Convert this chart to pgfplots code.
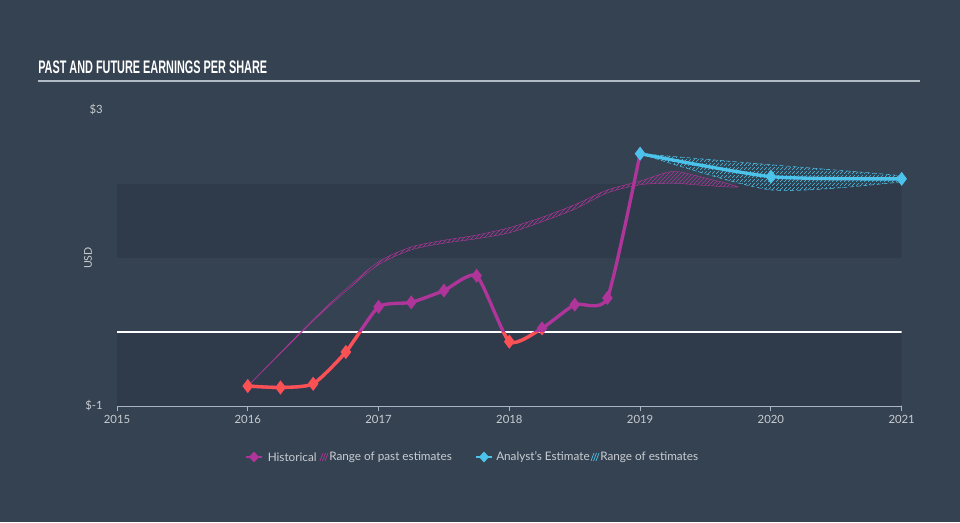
\documentclass[border=0pt]{standalone}
\usepackage{pgfplots}
\pgfplotsset{compat=1.18}
\usetikzlibrary{patterns}
\usepackage{fontspec}
\setmainfont{Lato}
\newfontfamily\titlefont{Liberation Sans}[FakeStretch=0.6]
\definecolor{bgc}{HTML}{354251}
\definecolor{bandc}{HTML}{2F3B4A}
\definecolor{redc}{HTML}{FA5252}
\definecolor{purc}{HTML}{B0359A}
\definecolor{bluc}{HTML}{4CC3EA}
\definecolor{txtc}{HTML}{C9CDD2}
\definecolor{axc}{HTML}{AAB5C1}
\begin{document}
\begin{tikzpicture}
\useasboundingbox (0,0) rectangle (720pt,391.5pt);
\fill[bgc] (0,0) rectangle (720pt,391.5pt);
% ---------- main axis ----------
\begin{axis}[
  at={(87.75pt,87pt)}, anchor=south west, scale only axis,
  width=588.5pt, height=222pt,
  xmin=2015, xmax=2021, ymin=-1, ymax=3,
  axis x line*=bottom, axis y line*=left,
  y axis line style={draw=none},
  x axis line style={draw=axc, line width=0.8pt},
  xtick={2015,2016,2017,2018,2019,2020,2021},
  xticklabels={2015,2016,2017,2018,2019,2020,2021},
  ytick={-1,3}, yticklabels={\$-1,\$3},
  tick align=outside,
  major tick length=4pt,
  x tick style={draw=axc, line width=0.7pt},
  y tick style={draw=none},
  ticklabel style={font=\fontsize{8.5}{10}\selectfont, text=txtc},
  xticklabel style={anchor=north, inner sep=0pt, yshift=-3pt},
  yticklabel style={anchor=east, inner sep=0pt, xshift=-6.5pt},
  clip=true,
]
\fill[bandc] (axis cs:2015,1) rectangle (axis cs:2021,2);
\fill[bandc] (axis cs:2015,-1) rectangle (axis cs:2021,0);
\draw[white, line width=0.9pt] (axis cs:2015,0) -- (axis cs:2021,0);
% range of past estimates (upper forward, lower backward)
\addplot[draw=purc, line width=0.3pt, smooth, tension=0.45, pattern=north east lines, pattern color=purc] coordinates {
 (2016.00,-0.73) (2016.25,-0.28) (2016.50,0.17) (2016.75,0.58) (2017.00,0.95)
 (2017.25,1.15) (2017.50,1.24) (2017.75,1.31) (2018.00,1.41) (2018.25,1.55)
 (2018.50,1.72) (2018.75,1.92) (2019.00,2.04) (2019.25,2.17) (2019.50,2.08) (2019.75,1.96)
 (2019.50,1.98) (2019.25,2.01) (2019.00,1.99) (2018.75,1.88) (2018.50,1.66)
 (2018.25,1.49) (2018.00,1.34) (2017.75,1.26) (2017.50,1.20) (2017.25,1.11)
 (2017.00,0.91) (2016.75,0.55) (2016.50,0.15) (2016.25,-0.29) (2016.00,-0.73)};
% range of estimates
\addplot[draw=bluc, line width=0.4pt, densely dashed, smooth, tension=0.4, pattern=north east lines, pattern color=bluc] coordinates {
 (2019,2.41) (2020,2.26) (2021,2.11) (2021,2.03) (2020,1.92) (2019,2.41)};
% historical (purple, full)
\addplot[purc, line width=2.5pt, smooth, tension=0.35, mark=diamond*, mark size=3.2pt] coordinates {
 (2016.00,-0.73) (2016.25,-0.75) (2016.50,-0.70) (2016.75,-0.27) (2017.00,0.34)
 (2017.25,0.40) (2017.50,0.56) (2017.75,0.76) (2018.00,-0.13) (2018.25,0.05)
 (2018.50,0.37) (2018.75,0.46) (2019.00,2.41)};
% analyst estimate
\addplot[bluc, line width=2.5pt, smooth, tension=0.4, mark=diamond*, mark size=3.2pt] coordinates {
 (2019,2.41) (2020,2.10) (2021,2.07)};
\end{axis}
% ---------- red overlay (below zero) ----------
\begin{scope}
\clip (87.75pt,80pt) rectangle (676.5pt,142.5pt);
\begin{axis}[
  at={(87.75pt,87pt)}, anchor=south west, scale only axis,
  width=588.5pt, height=222pt,
  xmin=2015, xmax=2021, ymin=-1, ymax=3,
  hide axis, clip=false,
]
\addplot[redc, line width=2.5pt, smooth, tension=0.35, mark=diamond*, mark size=3.2pt] coordinates {
 (2016.00,-0.73) (2016.25,-0.75) (2016.50,-0.70) (2016.75,-0.27) (2017.00,0.34)
 (2017.25,0.40) (2017.50,0.56) (2017.75,0.76) (2018.00,-0.13) (2018.25,0.05)
 (2018.50,0.37) (2018.75,0.46) (2019.00,2.41)};
\end{axis}
\end{scope}
% ---------- title, labels, legend (pixel coordinates) ----------
\begin{scope}[shift={(0,391.5pt)}, x=0.75pt, y=-0.75pt]
\node[anchor=base west, inner sep=0pt, text=white, font=\titlefont\bfseries\fontsize{13.6}{15}\selectfont] at (38,74) {PAST AND FUTURE EARNINGS PER SHARE};
\draw[color=axc!90!white, line width=1.1pt] (38,81) -- (920,81);
\node[rotate=90, text=txtc, font=\fontsize{8}{9}\selectfont] at (88,258) {USD};
% legend
\begin{scope}[every node/.style={anchor=west, inner sep=0pt, text=txtc, font=\fontsize{8.8}{10}\selectfont}]
\draw[purc, line width=2.2pt] (246,457) -- (262,457);
\fill[purc] (254,451.5) -- (259,457) -- (254,462.5) -- (249,457) -- cycle;
\node at (267.5,457.5) {Historical};
\foreach \d in {0,2.5,5} {\draw[purc, line width=0.5pt] (320+\d,461) -- (323+\d,453);}
\node at (329,457.5) {Range of past estimates};
\draw[bluc, line width=2.2pt] (476,457) -- (492,457);
\fill[bluc] (484,451.5) -- (489,457) -- (484,462.5) -- (479,457) -- cycle;
\node at (496,457.5) {Analyst's Estimate};
\foreach \d in {0,2.5,5} {\draw[bluc, line width=0.5pt] (591+\d,461) -- (594+\d,453);}
\node at (600,457.5) {Range of estimates};
\end{scope}
\end{scope}
\end{tikzpicture}
\end{document}
